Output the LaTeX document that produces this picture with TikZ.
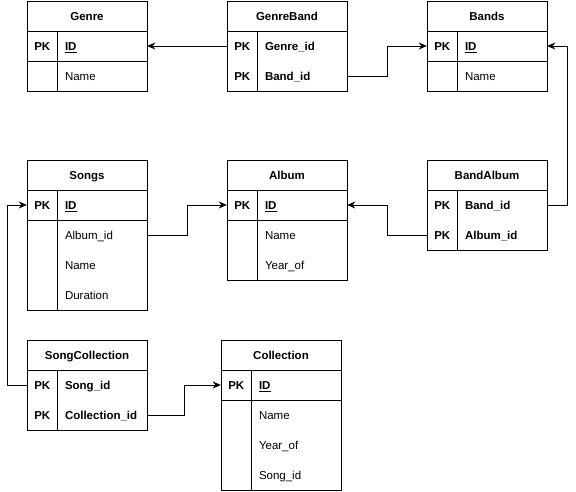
\documentclass[tikz,border=0pt]{standalone}
\usepackage{fontspec}
\setmainfont{Liberation Sans}
\usetikzlibrary{arrows.meta}
\tikzset{
  tablebox/.style={draw=black, line width=1pt, minimum width=120pt, inner sep=0pt, fill=white},
  rule/.style={draw=black, line width=1pt},
  fieldrow/.style={minimum width=120pt, minimum height=30pt, inner sep=0pt, draw=none},
  txt/.style={inner sep=0pt, yshift=-0.5pt, text height=8.2pt, text depth=0pt, font=\fontsize{11.5pt}{14pt}\selectfont},
  titletext/.style={txt, font=\fontsize{11.5pt}{14pt}\selectfont\bfseries},
  keytext/.style={txt, font=\fontsize{11.5pt}{14pt}\selectfont\bfseries},
  fieldtext/.style={txt, anchor=west},
  pkfield/.style={font=\fontsize{11.5pt}{14pt}\selectfont\bfseries},
  conn/.style={draw=black, line width=1pt, -{Stealth[length=8pt,width=7pt,inset=2.5pt]}}
}
\newcommand{\ertable}[6]{%
  \node[tablebox, minimum height={(#5+1)*30}] (#1) at (#2+60,#3+15*#5+15) {};
  \node[titletext] (#1-title) at (#2+60,#3+15) {#4};
  \draw[rule] (#2,#3+30) -- (#2+120,#3+30);
  \draw[rule] (#2,#3+30+30*#6) -- (#2+120,#3+30+30*#6);
  \draw[rule] (#2+30,#3+30) -- (#2+30,#3+30+30*#5);
}
\newcommand{\erfield}[6]{%
  \node[fieldrow] (#1) at (#2+60,#3+15) {};
  \node[keytext] (#1-k) at ([xshift=15.5pt]#1.west) {#4};
  \node[fieldtext,#6] (#1-t) at ([xshift=38pt]#1.west) {#5};
}
\begin{document}
\begin{tikzpicture}[x=1pt,y=-1pt]
\useasboundingbox (0,0) rectangle (576,491);
% Genre
\ertable{genre}{27}{1}{Genre}{2}{1}
\erfield{genre-id}{27}{31}{PK}{\underline{ID}}{pkfield}
\erfield{genre-name}{27}{61}{}{Name}{}
% GenreBand
\ertable{genreband}{227}{1}{GenreBand}{2}{2}
\erfield{genreband-genreid}{227}{31}{PK}{Genre\_id}{pkfield}
\erfield{genreband-bandid}{227}{61}{PK}{Band\_id}{pkfield}
% Bands
\ertable{bands}{427}{1}{Bands}{2}{1}
\erfield{bands-id}{427}{31}{PK}{\underline{ID}}{pkfield}
\erfield{bands-name}{427}{61}{}{Name}{}
% Songs
\ertable{songs}{27}{160}{Songs}{4}{1}
\erfield{songs-id}{27}{190}{PK}{\underline{ID}}{pkfield}
\erfield{songs-albumid}{27}{220}{}{Album\_id}{}
\erfield{songs-name}{27}{250}{}{Name}{}
\erfield{songs-duration}{27}{280}{}{Duration}{}
% Album
\ertable{album}{227}{160}{Album}{3}{1}
\erfield{album-id}{227}{190}{PK}{\underline{ID}}{pkfield}
\erfield{album-name}{227}{220}{}{Name}{}
\erfield{album-year}{227}{250}{}{Year\_of}{}
% BandAlbum
\ertable{bandalbum}{427}{160}{BandAlbum}{2}{2}
\erfield{bandalbum-bandid}{427}{190}{PK}{Band\_id}{pkfield}
\erfield{bandalbum-albumid}{427}{220}{PK}{Album\_id}{pkfield}
% SongCollection
\ertable{songcoll}{27}{340}{SongCollection}{2}{2}
\erfield{songcoll-songid}{27}{370}{PK}{Song\_id}{pkfield}
\erfield{songcoll-collid}{27}{400}{PK}{Collection\_id}{pkfield}
% Collection
\ertable{collection}{221}{340}{Collection}{4}{1}
\erfield{collection-id}{221}{370}{PK}{\underline{ID}}{pkfield}
\erfield{collection-name}{221}{400}{}{Name}{}
\erfield{collection-year}{221}{430}{}{Year\_of}{}
\erfield{collection-songid}{221}{460}{}{Song\_id}{}
% connectors
\draw[conn] (genreband-genreid.west) -- (genre-id.east);
\draw[conn] (genreband-bandid.east) -- ++(40.5,0) |- (bands-id.west);
\draw[conn] (bandalbum-bandid.east) -- ++(20.5,0) |- (bands-id.east);
\draw[conn] (bandalbum-albumid.west) -- ++(-39.5,0) |- (album-id.east);
\draw[conn] (songs-albumid.east) -- ++(40.5,0) |- (album-id.west);
\draw[conn] (songcoll-songid.west) -- ++(-19,0) |- (songs-id.west);
\draw[conn] (songcoll-collid.east) -- ++(37,0) |- (collection-id.west);
\end{tikzpicture}
\end{document}
